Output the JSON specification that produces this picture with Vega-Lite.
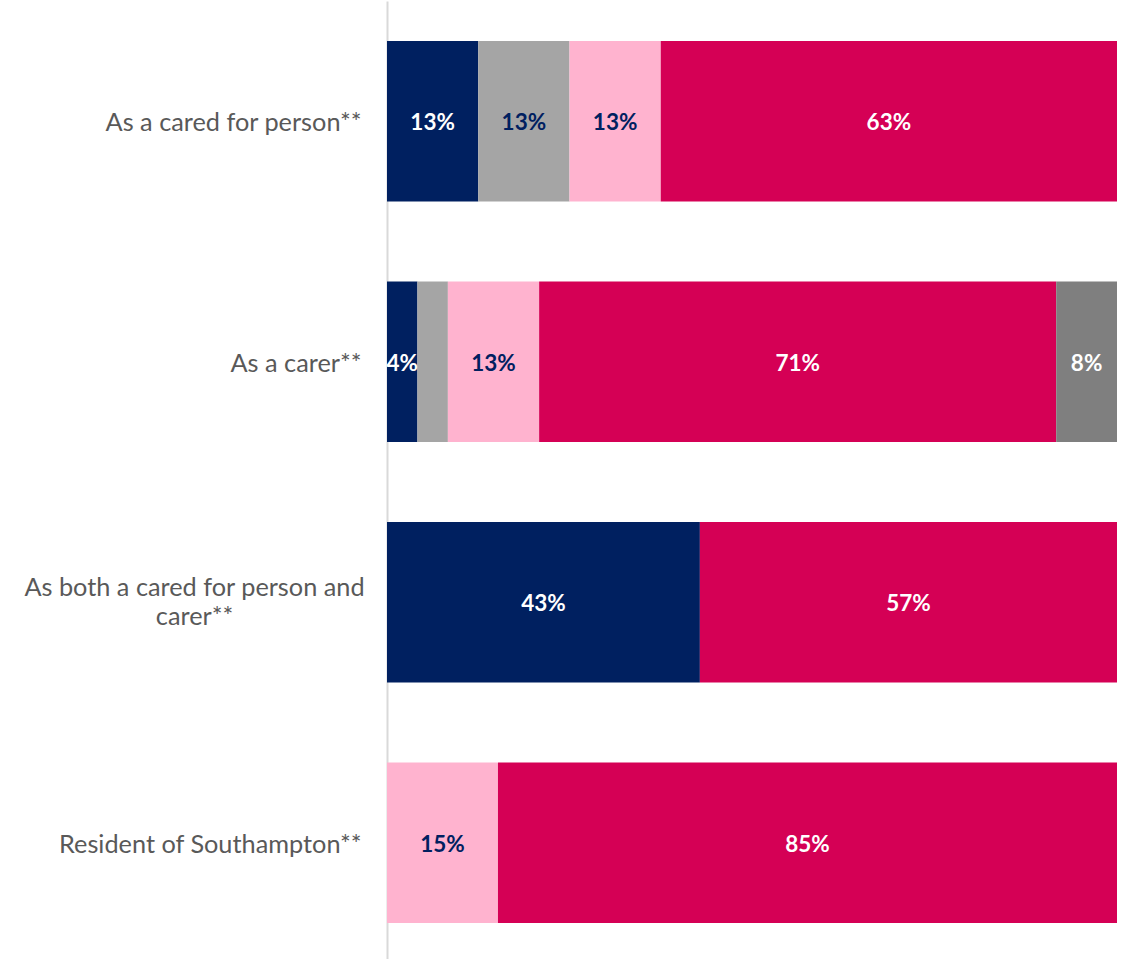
{
  "$schema": "https://vega.github.io/schema/vega-lite/v6.json",
  "autosize": "none",
  "padding": {"left": 387, "top": 1, "right": 10, "bottom": 0},
  "width": 730,
  "height": 962,
  "background": "white",
  "config": {"view": {"stroke": null}, "font": "Lato"},
  "data": {
    "values": [
      {"category": "As a cared for person**", "seg": "s1", "order": 1, "value": 12.5, "label": "13%"},
      {"category": "As a cared for person**", "seg": "s2", "order": 2, "value": 12.5, "label": "13%"},
      {"category": "As a cared for person**", "seg": "s3", "order": 3, "value": 12.5, "label": "13%"},
      {"category": "As a cared for person**", "seg": "s4", "order": 4, "value": 62.5, "label": "63%"},
      {"category": "As a carer**", "seg": "s1", "order": 1, "value": 4.17, "label": "4%"},
      {"category": "As a carer**", "seg": "s2", "order": 2, "value": 4.17, "label": ""},
      {"category": "As a carer**", "seg": "s3", "order": 3, "value": 12.5, "label": "13%"},
      {"category": "As a carer**", "seg": "s4", "order": 4, "value": 70.83, "label": "71%"},
      {"category": "As a carer**", "seg": "s5", "order": 5, "value": 8.33, "label": "8%"},
      {"category": "As both a cared for person and carer**", "seg": "s1", "order": 1, "value": 42.86, "label": "43%"},
      {"category": "As both a cared for person and carer**", "seg": "s4", "order": 4, "value": 57.14, "label": "57%"},
      {"category": "Resident of Southampton**", "seg": "s3", "order": 3, "value": 15.2, "label": "15%"},
      {"category": "Resident of Southampton**", "seg": "s4", "order": 4, "value": 84.8, "label": "85%"}
    ]
  },
  "transform": [
    {"stack": "value", "groupby": ["category"], "sort": [{"field": "order", "order": "ascending"}], "offset": "normalize", "as": ["x0", "x1"]},
    {"calculate": "(datum.x0 + datum.x1) / 2", "as": "xmid"}
  ],
  "encoding": {
    "y": {
      "field": "category",
      "type": "nominal",
      "sort": ["As a cared for person**", "As a carer**", "As both a cared for person and carer**", "Resident of Southampton**"],
      "scale": {"paddingInner": 0.3333, "paddingOuter": 0.1667},
      "axis": {
        "title": null,
        "ticks": false,
        "domainColor": "#D9D9D9",
        "domainWidth": 2,
        "labelFont": "Lato",
        "labelFontSize": 25.3,
        "labelColor": "#595959",
        "labelLimit": 400,
        "labelPadding": {"condition": {"test": "datum.value == 'As both a cared for person and carer**'", "value": 193}, "value": 26},
        "labelAlign": {"condition": {"test": "datum.value == 'As both a cared for person and carer**'", "value": "center"}, "value": "right"},
        "labelOffset": {"condition": {"test": "datum.value == 'As both a cared for person and carer**'", "value": -14}, "value": 2},
        "labelLineHeight": 29,
        "labelExpr": "datum.value == 'As both a cared for person and carer**' ? ['As both a cared for person and', 'carer**'] : datum.value"
      }
    }
  },
  "layer": [
    {
      "mark": {"type": "bar"},
      "encoding": {
        "x": {"field": "x0", "type": "quantitative", "scale": {"domain": [0, 1], "nice": false}, "axis": null},
        "x2": {"field": "x1"},
        "color": {
          "field": "seg",
          "type": "nominal",
          "scale": {"domain": ["s1", "s2", "s3", "s4", "s5"], "range": ["#002060", "#A5A5A5", "#FFB3CF", "#D50055", "#7F7F7F"]},
          "legend": null
        }
      }
    },
    {
      "mark": {"type": "text", "font": "Lato", "fontWeight": "bold", "fontSize": 22.5, "align": "center", "baseline": "middle", "dy": 2},
      "encoding": {
        "x": {"field": "xmid", "type": "quantitative"},
        "text": {"field": "label"},
        "color": {
          "condition": {"test": "datum.seg == 's2' || datum.seg == 's3'", "value": "#002060"},
          "value": "#FFFFFF"
        }
      }
    }
  ]
}
